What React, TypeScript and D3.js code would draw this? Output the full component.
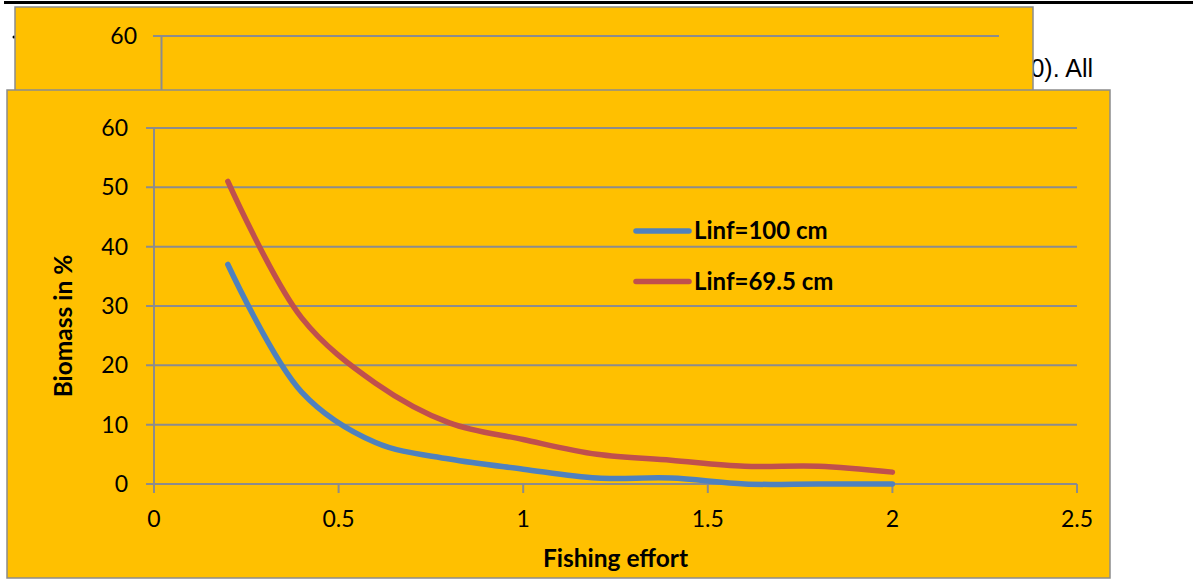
import React from "react";
import * as d3 from "d3";

// Fishing effort levels (x) and biomass (%) for two asymptotic lengths
const effort = [0.2, 0.4, 0.6, 0.8, 1.0, 1.2, 1.4, 1.6, 1.8, 2.0];
const biomassLinf100 = [37, 15.5, 7, 4.2, 2.5, 1, 1, 0, 0, 0];
const biomassLinf695 = [51, 28, 17, 10.3, 7.5, 5, 4, 3, 3, 2];

const seriesNames = ["Linf=100 cm", "Linf=69.5 cm"];
const seriesColors = ["#4F81BD", "#C0504D"];

const yTicks = [0, 10, 20, 30, 40, 50, 60];
const xTicks = [0, 0.5, 1, 1.5, 2, 2.5];
const backTickLabel = "60";

const W = 1193;
const H = 580;
const FONT = "Lato, 'Open Sans', sans-serif";
const FILL = "#FFC000";
const GRID = "#8c8c8c";

export default function App() {
  const x = d3.scaleLinear().domain([0, 2.5]).range([154, 1077]);
  const y = d3.scaleLinear().domain([0, 60]).range([484, 128]);

  const line = d3
    .line<[number, number]>()
    .x((d) => x(d[0]))
    .y((d) => y(d[1]))
    .curve(d3.curveCatmullRom.alpha(0.5));

  const series = [biomassLinf100, biomassLinf695].map((vals) =>
    effort.map((e, i) => [e, vals[i]] as [number, number])
  );

  return (
    <svg
      width={W}
      height={H}
      style={{ position: "absolute", left: 0, top: 0, background: "#fff" }}
    >
      {/* page text and rule behind the charts */}
      <rect x={4} y={1} width={W - 4} height={3} fill="#000" />
      <text
        x={1093}
        y={77}
        textAnchor="end"
        fontFamily="'Liberation Sans', Arial, sans-serif"
        fontSize={25}
        fill="#000"
      >
        0). All
      </text>
      <circle cx={14} cy={37} r={1.5} fill="#000" />

      {/* chart partly hidden underneath */}
      <rect x={15} y={7} width={1018} height={100} fill={FILL} stroke={GRID} strokeWidth={1.5} />
      <line x1={153} x2={999} y1={36} y2={36} stroke={GRID} strokeWidth={2} />
      <line x1={161.5} x2={161.5} y1={36} y2={100} stroke={GRID} strokeWidth={2} />
      <text x={137} y={44} textAnchor="end" fontFamily={FONT} fontSize={23} fill="#000">
        {backTickLabel}
      </text>

      {/* main chart */}
      <rect x={7} y={90} width={1103} height={488} fill={FILL} stroke={GRID} strokeWidth={1.5} />

      {yTicks.map((t) => (
        <g key={"y" + t}>
          <line x1={146} x2={1077} y1={y(t)} y2={y(t)} stroke={GRID} strokeWidth={2} />
          <text
            x={128}
            y={y(t) + 8}
            textAnchor="end"
            fontFamily={FONT}
            fontSize={23}
            fill="#000"
          >
            {t}
          </text>
        </g>
      ))}
      <line x1={154} x2={154} y1={y(60)} y2={y(0) + 8} stroke={GRID} strokeWidth={2} />
      {xTicks.map((t) => (
        <g key={"x" + t}>
          <line x1={x(t)} x2={x(t)} y1={y(0)} y2={y(0) + 9} stroke={GRID} strokeWidth={2} />
          <text
            x={x(t)}
            y={527}
            textAnchor="middle"
            fontFamily={FONT}
            fontSize={23}
            fill="#000"
          >
            {t}
          </text>
        </g>
      ))}

      {series.map((pts, i) => (
        <path
          key={seriesNames[i]}
          d={line(pts) || ""}
          fill="none"
          stroke={seriesColors[i]}
          strokeWidth={5.5}
          strokeLinecap="round"
          strokeLinejoin="round"
        />
      ))}

      {/* legend */}
      {seriesNames.map((name, i) => (
        <g key={"lg" + name} transform={`translate(0, ${231 + i * 50.5})`}>
          <line
            x1={636}
            x2={689}
            y1={0}
            y2={0}
            stroke={seriesColors[i]}
            strokeWidth={5.5}
            strokeLinecap="round"
          />
          <text
            x={694}
            y={8}
            fontFamily={FONT}
            fontWeight="bold"
            fontSize={24}
            fill="#000"
          >
            {name}
          </text>
        </g>
      ))}

      {/* axis titles */}
      <text
        x={615.5}
        y={567}
        textAnchor="middle"
        fontFamily={FONT}
        fontWeight="bold"
        fontSize={24.5}
        fill="#000"
      >
        Fishing effort
      </text>
      <text
        transform="translate(72, 326) rotate(-90)"
        textAnchor="middle"
        fontFamily={FONT}
        fontWeight="bold"
        fontSize={24.5}
        fill="#000"
      >
        Biomass in %
      </text>
    </svg>
  );
}
